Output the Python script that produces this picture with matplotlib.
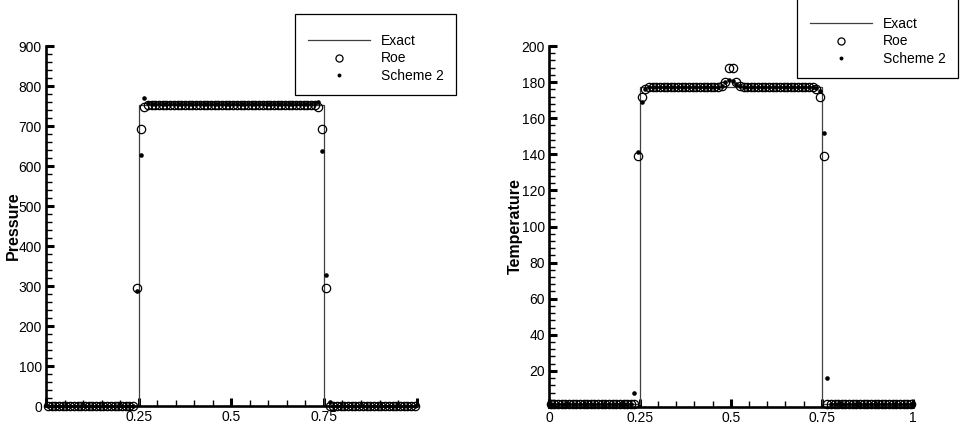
import numpy as np
import matplotlib
matplotlib.use('Agg')
from matplotlib import pyplot as plt
from matplotlib.ticker import MultipleLocator

plt.rcParams['font.family'] = ['Liberation Sans', 'DejaVu Sans']

# cell centres of the 100-cell mesh on [0,1]
x = np.linspace(0.005, 0.995, 100)

# exact solution, piecewise constant
x_exact = [0.0, 0.25, 0.25, 0.75, 0.75, 1.0]
p_exact = [0, 0, 752, 752, 0, 0]
t_exact = [1.5, 1.5, 177.5, 177.5, 1.5, 1.5]

# pressure
p_roe = [0]*24 + [296, 692, 748] + [752]*46 + [748, 692, 296] + [0]*24
p_s2 = [0]*24 + [288, 628, 770, 757] + [754]*44 + [757, 760, 637, 327, 10] + [0]*23

# temperature
t_roe = ([1.5]*24 + [139, 172, 176] + [177.5]*20 + [178, 180, 188, 188, 180, 178]
         + [177.5]*20 + [176, 172, 139] + [1.5]*24)
t_s2 = ([1.5]*23 + [8, 141, 169, 176] + [177.5]*20 + [178, 180, 181, 180.5, 179, 178]
        + [177.5]*20 + [177, 175, 152, 16] + [1.5]*23)

W, H = 966, 428
fig = plt.figure(figsize=(W/100, H/100), dpi=100)
ax1 = fig.add_axes([46/W, 22/H, 370.6/W, 360/H])
ax2 = fig.add_axes([549/W, 21/H, 363.7/W, 361/H])


def style(ax):
    for s in ['top', 'right']:
        ax.spines[s].set_visible(False)
    for s in ['left', 'bottom']:
        ax.spines[s].set_linewidth(1.9)
    ax.tick_params(which='major', direction='in', length=6, width=2.2,
                   labelsize=10, pad=3, top=False, right=False)
    ax.tick_params(which='minor', direction='in', length=4.3, width=1.0,
                   top=False, right=False)


def draw(ax, y_exact, y_roe, y_s2):
    ax.plot(x_exact, y_exact, '-', color='#404040', lw=0.9, label='Exact')
    ax.plot(x, y_roe, 'o', mfc='none', mec='black', ms=6, mew=0.9,
            clip_on=False, label='Roe')
    ax.plot(x, y_s2, 'o', color='black', ms=3.3, mew=0,
            clip_on=False, label='Scheme 2')


def legend(ax, left, top):
    # blank tiny title gives the extra room above the first entry
    leg = ax.legend(loc='upper left', bbox_to_anchor=(left/W, 1 - top/H),
                    bbox_transform=fig.transFigure, fontsize=10,
                    fancybox=False, edgecolor='black', framealpha=1,
                    borderaxespad=0, borderpad=0.9, handlelength=4.5,
                    handletextpad=0.8, labelspacing=0.25, numpoints=1,
                    markerscale=0.85, title=' ', title_fontsize=3)
    leg.get_frame().set_linewidth(0.9)


# pressure
draw(ax1, p_exact, p_roe, p_s2)
style(ax1)
ax1.set_xlim(0, 1)
ax1.set_ylim(0, 900)
ax1.set_xticks([0, 0.25, 0.5, 0.75, 1])
ax1.set_xticklabels(['', '0.25', '0.5', '0.75', ''])
ax1.xaxis.set_minor_locator(MultipleLocator(0.05))
ax1.yaxis.set_major_locator(MultipleLocator(100))
ax1.yaxis.set_minor_locator(MultipleLocator(20))
ax1.set_ylabel('Pressure', fontsize=11.5, fontweight='bold')
ax1.yaxis.set_label_coords(-0.069, 0.5)
legend(ax1, 295, 14)

# temperature
draw(ax2, t_exact, t_roe, t_s2)
style(ax2)
ax2.set_xlim(0, 1)
ax2.set_ylim(0, 200)
ax2.set_xticks([0, 0.25, 0.5, 0.75, 1])
ax2.set_xticklabels(['0', '0.25', '0.5', '0.75', '1'])
ax2.xaxis.set_minor_locator(MultipleLocator(0.05))
ax2.set_yticks(np.arange(0, 201, 20))
ax2.set_yticklabels([''] + [str(v) for v in range(20, 201, 20)])
ax2.yaxis.set_minor_locator(MultipleLocator(4))
ax2.set_ylabel('Temperature', fontsize=11.5, fontweight='bold')
ax2.yaxis.set_label_coords(-0.0725, 0.5)
legend(ax2, 797, -3)

fig.savefig('out.png', dpi=100)
